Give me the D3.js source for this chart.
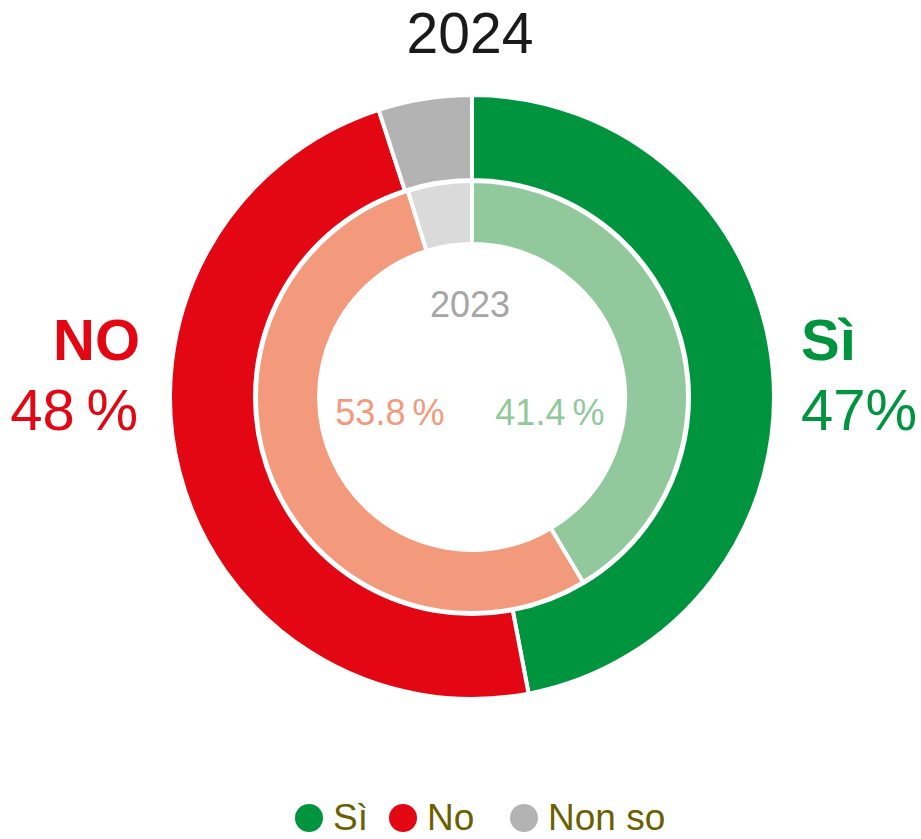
<!DOCTYPE html>
<html>
<head>
<meta charset="utf-8">
<script src="https://cdn.jsdelivr.net/npm/d3@7.9.0/dist/d3.min.js"></script>
<style>
  html, body { margin: 0; padding: 0; background: #fff; }
  svg { display: block; font-family: "Liberation Sans", Arial, sans-serif; }
</style>
</head>
<body>
<svg id="chart" width="921" height="839"></svg>
<script>
// ---------- Data ----------
const categories = ["Sì", "No", "Non so"];
const values2024 = [47, 48, 5];
const values2023 = [41.4, 53.8, 4.8];
const colors2024 = ["#00943e", "#e30613", "#b3b3b3"];
const colors2023 = ["#92c99c", "#f29a7b", "#dadada"];
const legendColors = ["#00943e", "#e30613", "#b3b3b3"];

const svg = d3.select("#chart");
const cx = 472, cy = 397;

const pie = d3.pie().sort(null).value((d) => d);

// outer ring (2024) and inner ring (2023)
const outerArc = d3.arc().innerRadius(217).outerRadius(302);
const innerArc = d3.arc().innerRadius(153).outerRadius(216);

const g = svg.append("g").attr("transform", `translate(${cx},${cy})`);

g.selectAll("path.outer")
  .data(pie(values2024))
  .join("path")
  .attr("class", "outer")
  .attr("d", outerArc)
  .attr("fill", (d, i) => colors2024[i])
  .attr("stroke", "#fff")
  .attr("stroke-width", 4);

g.selectAll("path.inner")
  .data(pie(values2023))
  .join("path")
  .attr("class", "inner")
  .attr("d", innerArc)
  .attr("fill", (d, i) => colors2023[i])
  .attr("stroke", "#fff")
  .attr("stroke-width", 4);

// ---------- Texts ----------
svg.append("text")
  .attr("x", 470).attr("y", 53)
  .attr("text-anchor", "middle")
  .attr("font-size", 57)
  .attr("fill", "#1a1a1a")
  .text("2024");

svg.append("text")
  .attr("x", 470).attr("y", 317)
  .attr("text-anchor", "middle")
  .attr("font-size", 36)
  .attr("fill", "#a6a6a6")
  .text("2023");

// inner percentages
svg.append("text")
  .attr("x", 390).attr("y", 425)
  .attr("text-anchor", "middle")
  .attr("font-size", 36)
  .attr("fill", colors2023[1])
  .text(`${values2023[1]}\u2009%`);

svg.append("text")
  .attr("x", 550).attr("y", 425)
  .attr("text-anchor", "middle")
  .attr("font-size", 36)
  .attr("fill", colors2023[0])
  .text(`${values2023[0]}\u2009%`);

// outer labels
svg.append("text")
  .attr("x", 140).attr("y", 360)
  .attr("text-anchor", "end")
  .attr("font-size", 58)
  .attr("font-weight", "bold")
  .attr("fill", colors2024[1])
  .text("NO");

svg.append("text")
  .attr("x", 138).attr("y", 430)
  .attr("text-anchor", "end")
  .attr("font-size", 58)
  .attr("fill", colors2024[1])
  .text(`${values2024[1]}\u2009%`);

svg.append("text")
  .attr("x", 801).attr("y", 360)
  .attr("font-size", 58)
  .attr("font-weight", "bold")
  .attr("fill", colors2024[0])
  .text("Sì");

svg.append("text")
  .attr("x", 801).attr("y", 430)
  .attr("font-size", 58)
  .attr("fill", colors2024[0])
  .text(`${values2024[0]}%`);

// ---------- Legend ----------
const legendX = [309, 403, 524];
const legend = svg.append("g").attr("transform", "translate(0,818)");

const items = legend.selectAll("g")
  .data(categories)
  .join("g")
  .attr("transform", (d, i) => `translate(${legendX[i]},0)`);

items.append("circle")
  .attr("r", 14)
  .attr("fill", (d, i) => legendColors[i]);

items.append("text")
  .attr("x", 24)
  .attr("y", 12)
  .attr("font-size", 37)
  .attr("fill", "#6b6000")
  .text((d) => d);
</script>
</body>
</html>
